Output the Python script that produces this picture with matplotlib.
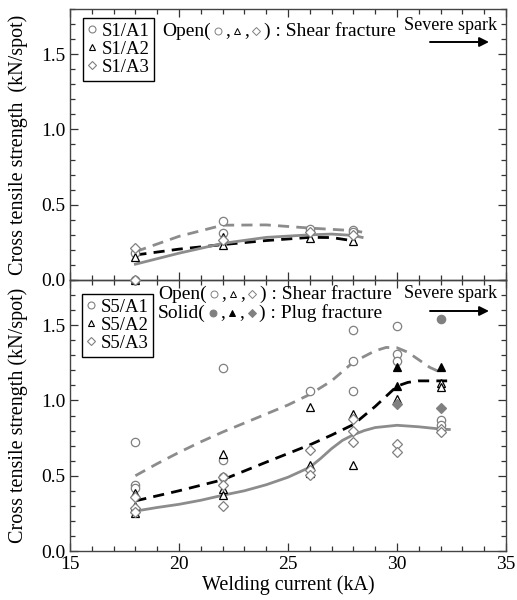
import matplotlib
matplotlib.use("Agg")
import matplotlib.pyplot as plt
from matplotlib.lines import Line2D
from matplotlib.offsetbox import TextArea, DrawingArea, HPacker, AnchoredOffsetbox

plt.rcParams['font.family'] = ['Liberation Serif', 'DejaVu Serif']

GRAY = '#808080'
LGRAY = '#8c8c8c'

# ---------------- data: top panel (S1) ----------------
s1_a1_x = [18, 18, 22, 22, 26, 28, 28]
s1_a1_y = [0.177, 0.0, 0.393, 0.309, 0.342, 0.331, 0.316]
s1_a2_x = [18, 18, 22, 22, 26, 28]
s1_a2_y = [0.155, 0.0, 0.287, 0.232, 0.276, 0.26]
s1_a3_x = [18, 18, 22, 26, 28]
s1_a3_y = [0.21, 0.0, 0.265, 0.32, 0.298]

s1_a1_fit_x = [18, 20, 22, 24, 26, 28, 28.4]
s1_a1_fit_y = [0.188, 0.29, 0.364, 0.366, 0.345, 0.328, 0.318]
s1_a2_fit_x = [18, 20, 22, 24, 26, 27, 28.1]
s1_a2_fit_y = [0.166, 0.205, 0.235, 0.262, 0.283, 0.282, 0.258]
s1_a3_fit_x = [18, 20, 22, 24, 26, 27, 28, 28.4]
s1_a3_fit_y = [0.105, 0.178, 0.243, 0.283, 0.300, 0.305, 0.296, 0.283]

# ---------------- data: bottom panel (S5) ----------------
s5_a1_open_x = [18, 18, 18, 22, 22, 22, 26, 28, 28, 28, 30, 30, 30, 32, 32]
s5_a1_open_y = [0.724, 0.44, 0.42, 1.213, 0.607, 0.49, 1.062, 1.469, 1.26, 1.062,
                1.495, 1.307, 1.262, 0.869, 0.84]
s5_a1_solid_x = [32]
s5_a1_solid_y = [1.54]

s5_a2_open_x = [18, 18, 18, 22, 22, 22, 26, 26, 26, 28, 28, 30, 32, 32]
s5_a2_open_y = [0.385, 0.30, 0.255, 0.645, 0.415, 0.37, 0.955, 0.568, 0.515,
                0.907, 0.573, 1.011, 1.118, 1.091]
s5_a2_solid_x = [30, 30, 32]
s5_a2_solid_y = [1.222, 1.096, 1.222]

s5_a3_open_x = [18, 18, 18, 22, 22, 22, 26, 26, 26, 28, 28, 28, 30, 30, 32, 32]
s5_a3_open_y = [0.36, 0.285, 0.26, 0.49, 0.44, 0.30, 0.668, 0.54, 0.505,
                0.878, 0.796, 0.724, 0.713, 0.655, 0.811, 0.789]
s5_a3_solid_x = [30, 32]
s5_a3_solid_y = [0.978, 0.947]

s5_a1_fit_x = [18, 19, 20, 21, 22, 23, 24, 25, 26, 27, 28, 29, 29.5, 30, 30.5, 31, 31.5, 32.1]
s5_a1_fit_y = [0.50, 0.58, 0.655, 0.725, 0.79, 0.85, 0.91, 0.97, 1.04, 1.13, 1.255,
               1.33, 1.352, 1.35, 1.32, 1.27, 1.22, 1.18]
s5_a2_fit_x = [18, 20, 22, 24, 26, 27, 28, 29, 30, 30.5, 31, 32, 32.3]
s5_a2_fit_y = [0.333, 0.40, 0.473, 0.59, 0.705, 0.77, 0.84, 0.96, 1.095, 1.12, 1.13, 1.13, 1.13]
s5_a3_fit_x = [18, 19, 20, 21, 22, 23, 24, 25, 26, 26.5, 27, 27.5, 28, 28.5, 29, 30, 31, 32, 32.4]
s5_a3_fit_y = [0.265, 0.289, 0.31, 0.337, 0.37, 0.40, 0.44, 0.49, 0.556, 0.615, 0.68,
               0.735, 0.772, 0.80, 0.82, 0.835, 0.825, 0.81, 0.807]

x_ticks = [15, 20, 25, 30, 35]
y_ticks = [0.0, 0.5, 1.0, 1.5]

# ---------------- figure ----------------
fig = plt.figure(figsize=(5.17, 6.0), dpi=100)
L, R = 70 / 517, 506 / 517
ax1 = fig.add_axes([L, 1 - 280 / 600, R - L, (280 - 9) / 600])
ax2 = fig.add_axes([L, 1 - 551 / 600, R - L, (551 - 280) / 600])
ax1.set_zorder(3)
ax1.patch.set_alpha(0)

MS = 6
def pts(ax, x, y, marker, color, filled, ms=MS):
    ax.plot(x, y, ls='none', marker=marker, ms=ms,
            mfc=color if filled else 'white', mec=color, mew=0.9,
            clip_on=False, zorder=4)

def style(ax):
    ax.set_xlim(15, 35)
    ax.set_ylim(0, 1.8)
    ax.set_xticks(x_ticks)
    ax.set_yticks(y_ticks)
    ax.set_xticks(range(15, 36), minor=True)
    ax.set_yticks([i / 10 for i in range(0, 19)], minor=True)
    ax.tick_params(which='both', direction='in', top=True, right=True,
                   labelsize=14, color='#333333', width=0.9)
    ax.tick_params(which='major', length=6)
    ax.tick_params(which='minor', length=3.5)
    ax.yaxis.set_major_formatter(plt.FormatStrFormatter('%.1f'))
    for s in ax.spines.values():
        s.set_color('#444444')
        s.set_linewidth(1.0)

for ax in (ax1, ax2):
    style(ax)
ax1.tick_params(labelbottom=False)

DASH = (4, 2.6)
# top panel lines
ax1.plot(s1_a1_fit_x, s1_a1_fit_y, color=LGRAY, lw=2, dashes=DASH, zorder=3)
ax1.plot(s1_a2_fit_x, s1_a2_fit_y, color='black', lw=2, dashes=DASH, zorder=3)
ax1.plot(s1_a3_fit_x, s1_a3_fit_y, color=LGRAY, lw=2, zorder=3)
pts(ax1, s1_a1_x, s1_a1_y, 'o', GRAY, False)
pts(ax1, s1_a2_x, s1_a2_y, '^', 'black', False)
pts(ax1, s1_a3_x, s1_a3_y, 'D', GRAY, False, ms=4.8)

# bottom panel lines
ax2.plot(s5_a1_fit_x, s5_a1_fit_y, color=LGRAY, lw=2, dashes=DASH, zorder=3)
ax2.plot(s5_a2_fit_x, s5_a2_fit_y, color='black', lw=2, dashes=DASH, zorder=3)
ax2.plot(s5_a3_fit_x, s5_a3_fit_y, color=LGRAY, lw=2, zorder=3)
pts(ax2, s5_a1_open_x, s5_a1_open_y, 'o', GRAY, False)
pts(ax2, s5_a2_open_x, s5_a2_open_y, '^', 'black', False)
pts(ax2, s5_a3_open_x, s5_a3_open_y, 'D', GRAY, False, ms=4.8)
pts(ax2, s5_a1_solid_x, s5_a1_solid_y, 'o', GRAY, True)
pts(ax2, s5_a2_solid_x, s5_a2_solid_y, '^', 'black', True)
pts(ax2, s5_a3_solid_x, s5_a3_solid_y, 'D', GRAY, True, ms=4.8)

# legends
def legend(ax, labels, anchor):
    hs = [Line2D([], [], ls='none', marker='o', ms=5, mfc='white', mec=GRAY, mew=0.8),
          Line2D([], [], ls='none', marker='^', ms=5, mfc='white', mec='black', mew=0.8),
          Line2D([], [], ls='none', marker='D', ms=4, mfc='white', mec=GRAY, mew=0.8)]
    lg = ax.legend(hs, labels, loc='upper left', bbox_to_anchor=anchor,
                   borderaxespad=0, fancybox=False, edgecolor='black',
                   framealpha=1, fontsize=13.5, handlelength=0.5, handletextpad=0.25,
                   borderpad=0.25, labelspacing=0.05)
    lg.get_frame().set_linewidth(1.0)

legend(ax1, ['S1/A1', 'S1/A2', 'S1/A3'], ((82.7 - 70) / 436, 1 - (18 - 9) / 271))
legend(ax2, ['S5/A1', 'S5/A2', 'S5/A3'], ((81.7 - 70) / 436, 1 - (294 - 280) / 271))

# annotation rows with symbols
def sym(marker, color, filled, ms):
    da = DrawingArea(6, 6, 0, 0)
    da.add_artist(Line2D([3], [3], ls='none', marker=marker, ms=ms,
                         mfc=color if filled else 'white', mec=color, mew=0.7))
    return da

def row(ax, first, last, filled, xy):
    tp = dict(fontsize=14)
    kids = [TextArea(first, textprops=tp),
            sym('o', GRAY, filled, 5), TextArea(',', textprops=tp),
            sym('^', 'black', filled, 5), TextArea(',', textprops=tp),
            sym('D', GRAY, filled, 4), TextArea(last, textprops=tp)]
    box = HPacker(children=kids, align='center', pad=0, sep=2.2)
    ab = AnchoredOffsetbox(loc='center left', child=box, pad=0, borderpad=0,
                           frameon=False, bbox_to_anchor=xy,
                           bbox_transform=ax.transAxes)
    ax.add_artist(ab)

row(ax1, 'Open(', ') : Shear fracture', False, ((162 - 70) / 436, 1 - (31 - 9) / 271))
row(ax2, 'Open(', ') : Shear fracture', False, ((158 - 70) / 436, 1 - (294 - 280) / 271))
row(ax2, 'Solid(', ') : Plug fracture', True, ((158 - 70) / 436, 1 - (313 - 280) / 271))

# severe spark
for ax, ty, ay in ((ax1, 1 - (26 - 9) / 271, 1 - (42 - 9) / 271),
                   (ax2, 1 - (294 - 280) / 271, 1 - (311 - 280) / 271)):
    ax.text((451 - 70) / 436, ty, 'Severe spark', transform=ax.transAxes,
            ha='center', va='center', fontsize=13)
    ax.annotate('', xy=((489 - 70) / 436, ay), xytext=((430 - 70) / 436, ay),
                xycoords='axes fraction', textcoords='axes fraction',
                arrowprops=dict(arrowstyle='-|>', color='black', lw=1.4,
                                mutation_scale=14, shrinkA=0, shrinkB=0))

ax1.set_ylabel('Cross tensile strength  (kN/spot)', fontsize=14.5, labelpad=9)
ax2.set_ylabel('Cross tensile strength (kN/spot)', fontsize=14.5, labelpad=9)
ax2.set_xlabel('Welding current (kA)', fontsize=14.5, labelpad=2)

fig.savefig('out.png', dpi=100, facecolor='white')
